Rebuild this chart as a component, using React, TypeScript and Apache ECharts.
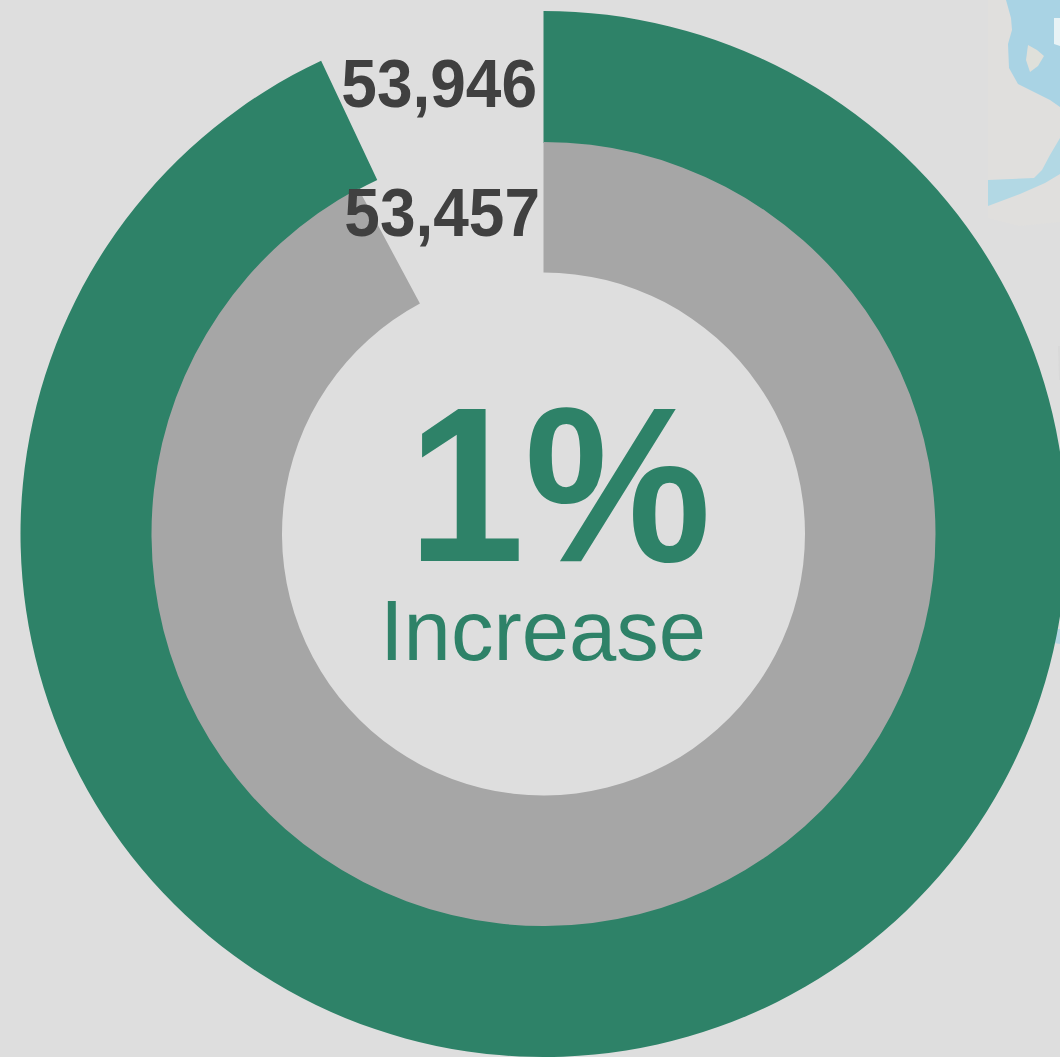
import React, { useEffect, useRef } from "react";
import * as echarts from "echarts";

const TOTAL = 58000;
const currentValue = 53946;
const previousValue = 53457;
const valueLabels = ["53,946", "53,457"];
const centerValue = "1%";
const centerCaption = "Increase";

const GREEN = "#2e8268";
const GRAY = "#a6a6a6";
const BG = "#dedede";
const DARK = "#404040";
const CENTER = [543.5, 534];

function ring(name: string, value: number, inner: number, outer: number, color: string) {
  return {
    type: "pie",
    name,
    center: CENTER,
    radius: [inner, outer],
    startAngle: 90,
    clockwise: true,
    silent: true,
    label: { show: false },
    labelLine: { show: false },
    data: [
      { value, itemStyle: { color } },
      { value: TOTAL - value, itemStyle: { color: "transparent" } },
    ],
  };
}

function mapPatch(points: number[][], fill: string) {
  return { type: "polygon", z: -1, shape: { points }, style: { fill } };
}

export default function App() {
  const ref = useRef<HTMLDivElement>(null);
  useEffect(() => {
    document.body.style.margin = "0";
    const chart = echarts.init(ref.current!, null, { renderer: "svg" });
    chart.setOption({
      animation: false,
      backgroundColor: BG,
      series: [
        ring("Current", currentValue, 391, 523, GREEN),
        ring("Previous", previousValue, 261.5, 392, GRAY),
      ],
      graphic: [
        mapPatch([[988, 0], [1060, 0], [1060, 222], [1020, 226], [988, 218]], "#e0dfdd"),
        mapPatch(
          [
            [1006, 0], [1011, 18], [1012, 30], [1008, 44], [1009, 68], [1018, 84],
            [1034, 92], [1050, 100], [1060, 107], [1060, 0],
          ],
          "#a9d3e4"
        ),
        mapPatch([[1028, 45], [1037, 50], [1044, 56], [1038, 66], [1030, 72], [1026, 60]], "#dfe0da"),
        mapPatch([[1054, 18], [1060, 18], [1060, 46], [1054, 44]], "#e8f3f6"),
        mapPatch(
          [
            [1060, 138], [1050, 155], [1042, 170], [1034, 178], [988, 180], [988, 206],
            [1020, 194], [1045, 183], [1060, 174],
          ],
          "#b2d8e4"
        ),
        mapPatch([[1054, 629], [1060, 629], [1060, 644], [1054, 643]], "#b5d6e3"),
        mapPatch([[1058, 346], [1060, 346], [1060, 380], [1059, 380]], "#d9d9d9"),
        {
          type: "text",
          z: 10,
          x: 537,
          y: 118,
          scaleY: 1.08,
          style: {
            text: valueLabels[0],
            fill: DARK,
            font: 'bold 64px "Liberation Sans", Arial, sans-serif',
            textAlign: "right",
            textVerticalAlign: "bottom",
          },
        },
        {
          type: "text",
          z: 10,
          x: 540,
          y: 247,
          scaleY: 1.08,
          style: {
            text: valueLabels[1],
            fill: DARK,
            font: 'bold 64px "Liberation Sans", Arial, sans-serif',
            textAlign: "right",
            textVerticalAlign: "bottom",
          },
        },
        {
          type: "text",
          z: 10,
          x: 559.5,
          y: 595,
          scaleY: 1.055,
          style: {
            text: centerValue,
            fill: GREEN,
            font: 'bold 210px "Liberation Sans", Arial, sans-serif',
            textAlign: "center",
            textVerticalAlign: "bottom",
          },
        },
        {
          type: "text",
          z: 10,
          x: 543,
          y: 673,
          style: {
            text: centerCaption,
            fill: GREEN,
            font: '85px "Liberation Sans", Arial, sans-serif',
            textAlign: "center",
            textVerticalAlign: "bottom",
          },
        },
      ],
    });
    return () => chart.dispose();
  }, []);
  return <div ref={ref} style={{ position: "absolute", left: 0, top: 0, width: 1060, height: 1057, overflow: "hidden" }} />;
}
